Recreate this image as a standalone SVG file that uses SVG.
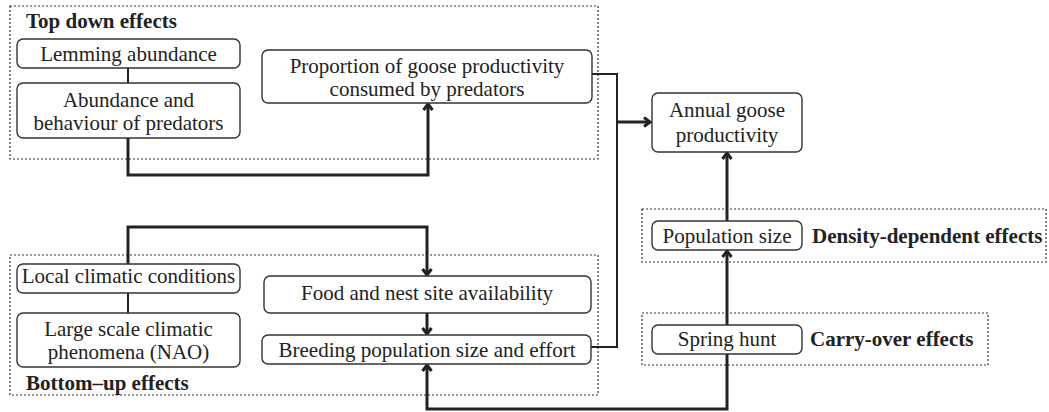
<svg xmlns="http://www.w3.org/2000/svg" width="1049" height="412" viewBox="0 0 1049 412">
<style>
.bg{fill:#fff}
.grp{fill:none;stroke:#333;stroke-width:1.2;stroke-dasharray:2 2}
.box{fill:#fff;stroke:#333;stroke-width:1.4}
.t{font-family:"Liberation Serif","Times New Roman",serif;font-size:21px;fill:#222;text-anchor:middle}
.b{font-family:"Liberation Serif","Times New Roman",serif;font-size:21px;font-weight:bold;fill:#222}
.c{fill:none;stroke:#222;stroke-width:3}
.thin{fill:none;stroke:#222;stroke-width:2}
</style>
<defs>
<marker id="ah" viewBox="0 0 12 12" refX="10" refY="6" markerWidth="12" markerHeight="12" markerUnits="userSpaceOnUse" orient="auto">
<path d="M4,1.5 L10,6 L4,10.5" fill="none" stroke="#222" stroke-width="3"/>
</marker>
</defs>
<rect class="bg" x="0" y="0" width="1049" height="412"/>
<g id="top-down">
<rect class="grp" x="10" y="6" width="588" height="153"/>
<text class="b" x="26" y="28">Top down effects</text>
</g>
<g id="bottom-up">
<rect class="grp" x="10" y="255" width="588" height="140"/>
<text class="b" x="26" y="390">Bottom–up effects</text>
</g>
<g id="density-dependent">
<rect class="grp" x="642" y="209" width="404" height="53"/>
<text class="b" x="812" y="243">Density-dependent effects</text>
</g>
<g id="carry-over">
<rect class="grp" x="642" y="313" width="346" height="52"/>
<text class="b" x="810" y="346">Carry-over effects</text>
</g>
<g id="connectors">
<path class="thin" d="M128,68 V83"/>
<path class="thin" d="M128,293 V313"/>
<path class="c" d="M128,138 V175 H428 V104" marker-end="url(#ah)"/>
<path class="thin" d="M592,74 H617 V347 H591"/>
<path class="c" d="M617,122 H650" marker-end="url(#ah)"/>
<path class="c" d="M128,264 V227 H427 V275" marker-end="url(#ah)"/>
<path class="c" d="M427,313 V334" marker-end="url(#ah)"/>
<path class="c" d="M727,354 V409 H427 V365" marker-end="url(#ah)"/>
<path class="c" d="M727,325 V251" marker-end="url(#ah)"/>
<path class="c" d="M727,221 V153" marker-end="url(#ah)"/>
</g>
<g id="lemming">
<rect class="box" x="17" y="39" width="223" height="29" rx="6"/>
<text class="t" x="128.5" y="61">Lemming abundance</text>
</g>
<g id="predators">
<rect class="box" x="17" y="83" width="223" height="55" rx="6"/>
<text class="t" x="128.5" y="107">Abundance and</text>
<text class="t" x="128.5" y="130">behaviour of predators</text>
</g>
<g id="proportion">
<rect class="box" x="262" y="50" width="330" height="53" rx="6"/>
<text class="t" x="427" y="73">Proportion of goose productivity</text>
<text class="t" x="427" y="96">consumed by predators</text>
</g>
<g id="annual">
<rect class="box" x="652" y="93" width="150" height="59" rx="6"/>
<text class="t" x="727" y="117">Annual goose</text>
<text class="t" x="727" y="142">productivity</text>
</g>
<g id="population">
<rect class="box" x="652" y="221" width="150" height="29" rx="6"/>
<text class="t" x="727" y="243">Population size</text>
</g>
<g id="spring">
<rect class="box" x="652" y="325" width="150" height="29" rx="6"/>
<text class="t" x="727" y="346">Spring hunt</text>
</g>
<g id="local">
<rect class="box" x="17" y="264" width="223" height="29" rx="6"/>
<text class="t" x="128.5" y="283">Local climatic conditions</text>
</g>
<g id="large-scale">
<rect class="box" x="17" y="313" width="223" height="54" rx="6"/>
<text class="t" x="128.5" y="336">Large scale climatic</text>
<text class="t" x="128.5" y="359">phenomena (NAO)</text>
</g>
<g id="food">
<rect class="box" x="264" y="276" width="327" height="37" rx="6"/>
<text class="t" x="427" y="300">Food and nest site availability</text>
</g>
<g id="breeding">
<rect class="box" x="262" y="335" width="329" height="29" rx="6"/>
<text class="t" x="427" y="357">Breeding population size and effort</text>
</g>
</svg>
